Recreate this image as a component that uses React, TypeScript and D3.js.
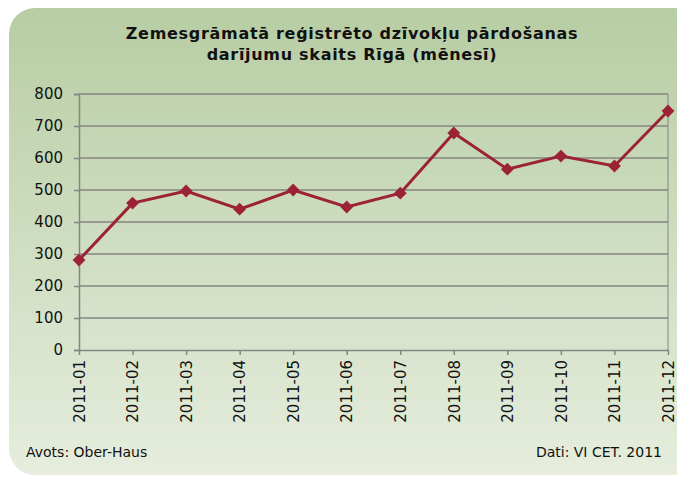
import React, { useEffect, useRef } from "react";
import * as d3 from "d3";

const WIDTH = 677;
const HEIGHT = 477;
const MARGIN = { top: 94, right: 9, bottom: 127, left: 79 };
const INNER_WIDTH = WIDTH - MARGIN.left - MARGIN.right;
const INNER_HEIGHT = HEIGHT - MARGIN.top - MARGIN.bottom;

const MONTHS = ["2011-01", "2011-02", "2011-03", "2011-04", "2011-05", "2011-06", "2011-07", "2011-08", "2011-09", "2011-10", "2011-11", "2011-12"];
const DEALS = [281, 459, 497, 440, 500, 447, 490, 678, 565, 606, 575, 747];
const Y_TICKS = [0, 100, 200, 300, 400, 500, 600, 700, 800];
const TITLE = ["Zemesgrāmatā reģistrēto dzīvokļu pārdošanas", "darījumu skaits Rīgā (mēnesī)"];
const SOURCE = "Avots: Ober-Haus";
const DATA_NOTE = "Dati: VI CET. 2011";

const LINE_COLOR = "#9b2335";
const GRID_COLOR = "#858585";
const FONT = "Verdana, 'DejaVu Sans', sans-serif";

export default function App() {
  const ref = useRef<SVGSVGElement>(null);

  useEffect(() => {
    const root = d3.select(ref.current);
    root.selectAll("*").remove();

    const defs = root.append("defs");
    const grad = defs
      .append("linearGradient")
      .attr("id", "bg")
      .attr("x1", 0)
      .attr("y1", 0)
      .attr("x2", 0)
      .attr("y2", 1);
    grad.append("stop").attr("offset", "0%").attr("stop-color", "#b7cda3");
    grad.append("stop").attr("offset", "100%").attr("stop-color", "#e6eddd");

    // panel
    root
      .append("rect")
      .attr("x", 9)
      .attr("y", 8)
      .attr("width", 690)
      .attr("height", 467)
      .attr("rx", 26)
      .attr("fill", "url(#bg)");

    // title
    const title = root
      .append("text")
      .attr("text-anchor", "middle")
      .attr("font-family", FONT)
      .attr("font-weight", "bold")
      .attr("font-size", "16px")
      .attr("letter-spacing", "0.7px")
      .attr("fill", "#111");
    TITLE.forEach((t, i) => {
      title
        .append("tspan")
        .attr("x", 352)
        .attr("y", 39 + i * 21)
        .text(t);
    });

    const x = d3.scalePoint<string>().domain(MONTHS).range([0, INNER_WIDTH]);
    const y = d3.scaleLinear().domain([0, 800]).range([INNER_HEIGHT, 0]);

    const g = root
      .append("g")
      .attr("transform", "translate(" + MARGIN.left + "," + MARGIN.top + ")");

    // horizontal grid
    g.append("g")
      .selectAll("line")
      .data(Y_TICKS.filter((d) => d > 0))
      .join("line")
      .attr("x1", 0)
      .attr("x2", INNER_WIDTH)
      .attr("y1", (d) => y(d))
      .attr("y2", (d) => y(d))
      .attr("stroke", GRID_COLOR)
      .attr("stroke-width", 1.5);

    // right border
    g.append("line")
      .attr("x1", INNER_WIDTH)
      .attr("x2", INNER_WIDTH)
      .attr("y1", 0)
      .attr("y2", INNER_HEIGHT)
      .attr("stroke", GRID_COLOR)
      .attr("stroke-width", 1);

    // y axis
    const yAxis = g
      .append("g")
      .call(d3.axisLeft(y).tickValues(Y_TICKS).tickSize(5).tickPadding(11));
    yAxis.select(".domain").attr("stroke", GRID_COLOR).attr("stroke-width", 1.5);
    yAxis.selectAll(".tick line").attr("stroke", GRID_COLOR).attr("stroke-width", 1.5);
    yAxis
      .selectAll(".tick text")
      .attr("font-family", FONT)
      .attr("font-size", "15px")
      .attr("fill", "#111");

    // x axis
    const xAxis = g
      .append("g")
      .attr("transform", "translate(0," + INNER_HEIGHT + ")")
      .call(d3.axisBottom(x).tickSize(5).tickSizeOuter(0));
    xAxis.select(".domain").attr("stroke", GRID_COLOR).attr("stroke-width", 1.5);
    xAxis.selectAll(".tick line").attr("stroke", GRID_COLOR).attr("stroke-width", 1.5);
    xAxis
      .selectAll(".tick text")
      .attr("font-family", FONT)
      .attr("font-size", "15px")
      .attr("fill", "#111")
      .attr("text-anchor", "end")
      .attr("dy", "0.35em")
      .attr("transform", "translate(0,3) rotate(-90)")
      .attr("x", -7)
      .attr("y", 0);

    // line
    const line = d3
      .line<number>()
      .x((d, i) => x(MONTHS[i]) as number)
      .y((d) => y(d));
    g.append("path")
      .attr("d", line(DEALS))
      .attr("fill", "none")
      .attr("stroke", LINE_COLOR)
      .attr("stroke-width", 3);

    g.append("g")
      .selectAll("path")
      .data(DEALS)
      .join("path")
      .attr("transform", (d, i) => "translate(" + x(MONTHS[i]) + "," + y(d) + ")")
      .attr("d", d3.symbol().type(d3.symbolDiamond2).size(105)())
      .attr("fill", LINE_COLOR);

    // footer
    root
      .append("text")
      .attr("x", 26)
      .attr("y", 457)
      .attr("font-family", FONT)
      .attr("font-size", "14px")
      .attr("fill", "#111")
      .text(SOURCE);
    root
      .append("text")
      .attr("x", 662)
      .attr("y", 457)
      .attr("text-anchor", "end")
      .attr("font-family", FONT)
      .attr("font-size", "14px")
      .attr("fill", "#111")
      .text(DATA_NOTE);
  }, []);

  return (
    <svg
      ref={ref}
      width={WIDTH}
      height={HEIGHT}
      style={{ position: "absolute", left: 0, top: 0 }}
    />
  );
}
